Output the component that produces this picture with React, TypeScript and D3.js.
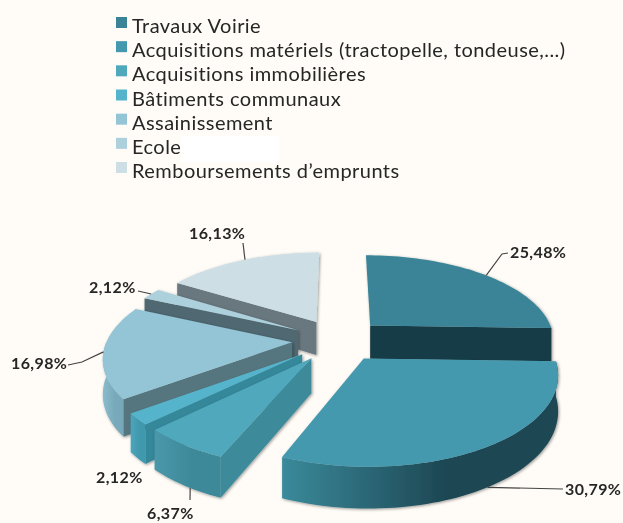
import * as d3 from "d3";

// values
const categories = [
  "Travaux Voirie",
  "Acquisitions matériels (tractopelle, tondeuse,...)",
  "Acquisitions immobilières",
  "Bâtiments communaux",
  "Assainissement",
  "Ecole",
  "Remboursements d’emprunts",
];
const values = [25.48, 30.79, 6.37, 2.12, 16.98, 2.12, 16.13];
const valueLabels = ["25,48%", "30,79%", "6,37%", "2,12%", "16,98%", "2,12%", "16,13%"];

const topColors = ["#3b8497", "#4599ae", "#50a8bc", "#55b4cb", "#93c5d6", "#add0dd", "#cddee5"];
const faceColors = ["#173c46", "#1c4650", "#3d8a9b", "#36879a", "#56767f", "#4f6871", "#69787e"];
const wallLeft = ["#173c46", "#3a8a9b", "#4a98aa", "#4ba6bc", "#8abccc", "#8fb0bb", "#8a9ca3"];
const wallRight = ["#173c46", "#1d4652", "#3c8899", "#4198ad", "#78a9ba", "#7d9aa5", "#7b8c93"];

// label position, leader elbow and where on the slice's rim the leader lands
const labelX = [510, 565, 147, 96, 11, 89, 189];
const labelY = [258, 495, 519, 483, 369, 293, 239];
const leaderRim = [0.51, 0.5, 0.41, -1, 0.5, 0.5, 0.52];
const leaderElbow: ([number, number] | null)[] = [
  [502, 254],
  [563, 489],
  [190, 500],
  null,
  [82, 362],
  [138, 291],
  [243, 243],
];
const leaderEnd: ([number, number] | null)[] = [
  [508, 253],
  null,
  null,
  null,
  [68, 365],
  null,
  null,
];

const WIDTH = 623;
const HEIGHT = 523;
const CX = 338;
const CY = 340;
const RADIUS = 185;
const EXPLODE = 46;
const TILT = 0.461;
const PERSPECTIVE = 0.000834;
const DEPTH = 34;

// ground plane (u to the right, v towards the viewer) to the screen
const project = (u: number, v: number, h = 0): [number, number] => {
  const s = 1 / (1 - PERSPECTIVE * v);
  return [CX + u * s, CY + (TILT * v + h) * s];
};

const slices = d3.pie<number>().sort(null)(values);
const line = d3.line();
const legendY = d3.scalePoint<number>().domain(d3.range(categories.length)).range([33, 178]);

function App() {
  const shapes = slices.map((s) => {
    const mid = (s.startAngle + s.endAngle) / 2;
    const ou = EXPLODE * Math.sin(mid);
    const ov = -EXPLODE * Math.cos(mid);
    const rim = (a: number, h = 0) =>
      project(ou + RADIUS * Math.sin(a), ov - RADIUS * Math.cos(a), h);
    const apex = (h = 0) => project(ou, ov, h);
    const arcAngles = (a0: number, a1: number) => {
      const n = Math.max(2, Math.ceil((a1 - a0) / 0.03));
      return d3.range(n + 1).map((i) => a0 + ((a1 - a0) * i) / n);
    };
    const top =
      line([apex(), ...arcAngles(s.startAngle, s.endAngle).map((a) => rim(a))]) + "Z";
    // the rim only shows on the half turned to the viewer
    const w0 = Math.max(s.startAngle, Math.PI / 2);
    const w1 = Math.min(s.endAngle, (3 * Math.PI) / 2);
    let wall = "";
    if (w1 > w0) {
      const angles = arcAngles(w0, w1);
      wall =
        line([
          ...angles.map((a) => rim(a)),
          ...angles.slice().reverse().map((a) => rim(a, DEPTH)),
        ]) + "Z";
    }
    const face = (a: number) =>
      line([apex(), rim(a), rim(a, DEPTH), apex(DEPTH)]) + "Z";
    const faces: string[] = [];
    if (Math.cos(s.startAngle - Math.PI / 2) < -0.01) faces.push(face(s.startAngle));
    if (Math.cos(s.endAngle + Math.PI / 2) < -0.01) faces.push(face(s.endAngle));
    return { s, top, wall, faces, rim };
  });

  // back slices first so the nearer ones cover them
  const drawOrder = [6, 5, 4, 0, 3, 2, 1];

  return (
    <svg
      width={WIDTH}
      height={HEIGHT}
      style={{ position: "absolute", left: 0, top: 0, display: "block" }}
    >
      <defs>
        <filter id="soft" x="-5%" y="-5%" width="110%" height="110%">
          <feGaussianBlur stdDeviation="0.55" />
        </filter>
        <filter id="shadow" x="-10%" y="-10%" width="120%" height="120%">
          <feDropShadow dx="1" dy="1" stdDeviation="1.8" floodColor="#000" floodOpacity="0.4" />
        </filter>
        {shapes.map((_, i) => (
          <linearGradient key={i} id={"wall" + i} x1="0" x2="1" y1="0" y2="0">
            <stop offset="0" stopColor={wallLeft[i]} />
            <stop offset="0.6" stopColor={wallRight[i]} />
          </linearGradient>
        ))}
      </defs>
      <rect width={WIDTH} height={HEIGHT} fill="#fffcf7" />
      <rect x={181} y={136} width={98} height={26} fill="#ffffff" />

      <g filter="url(#soft)">
        {categories.map((c, i) => (
          <g key={c}>
            <rect x={116} y={legendY(i)! - 16} width={11} height={11} fill={topColors[i]} />
            <text
              x={132}
              y={legendY(i)!}
              fontFamily="Lato, 'Open Sans', sans-serif"
              fontSize={20}
              letterSpacing={0.45}
              fill="#262626"
            >
              {c}
            </text>
          </g>
        ))}
      </g>

      <g filter="url(#soft)">
        {drawOrder.map((i) => {
          const d = shapes[i];
          return (
            <g key={i} filter="url(#shadow)">
              {d.wall && <path d={d.wall} fill={`url(#wall${i})`} />}
              {d.faces.map((f, j) => (
                <path key={j} d={f} fill={faceColors[i]} />
              ))}
              <path d={d.top} fill={topColors[i]} />
            </g>
          );
        })}

        {shapes.map((d, i) => {
          if (leaderRim[i] < 0) return null;
          const a = d.s.startAngle + (d.s.endAngle - d.s.startAngle) * leaderRim[i];
          const h = i === 1 || i === 2 ? DEPTH : 0;
          const pts: [number, number][] = [d.rim(a, h), leaderElbow[i]!];
          if (leaderEnd[i]) pts.push(leaderEnd[i]!);
          return <path key={i} d={line(pts)!} fill="none" stroke="#444" strokeWidth={1.2} />;
        })}

        {valueLabels.map((l, i) => (
          <text
            key={i}
            x={labelX[i]}
            y={labelY[i]}
            fontFamily="Lato, 'Open Sans', sans-serif"
            fontSize={16}
            fontWeight={700}
            letterSpacing={0.4}
            fill="#262626"
          >
            {l}
          </text>
        ))}
      </g>
    </svg>
  );
}

export default App;
